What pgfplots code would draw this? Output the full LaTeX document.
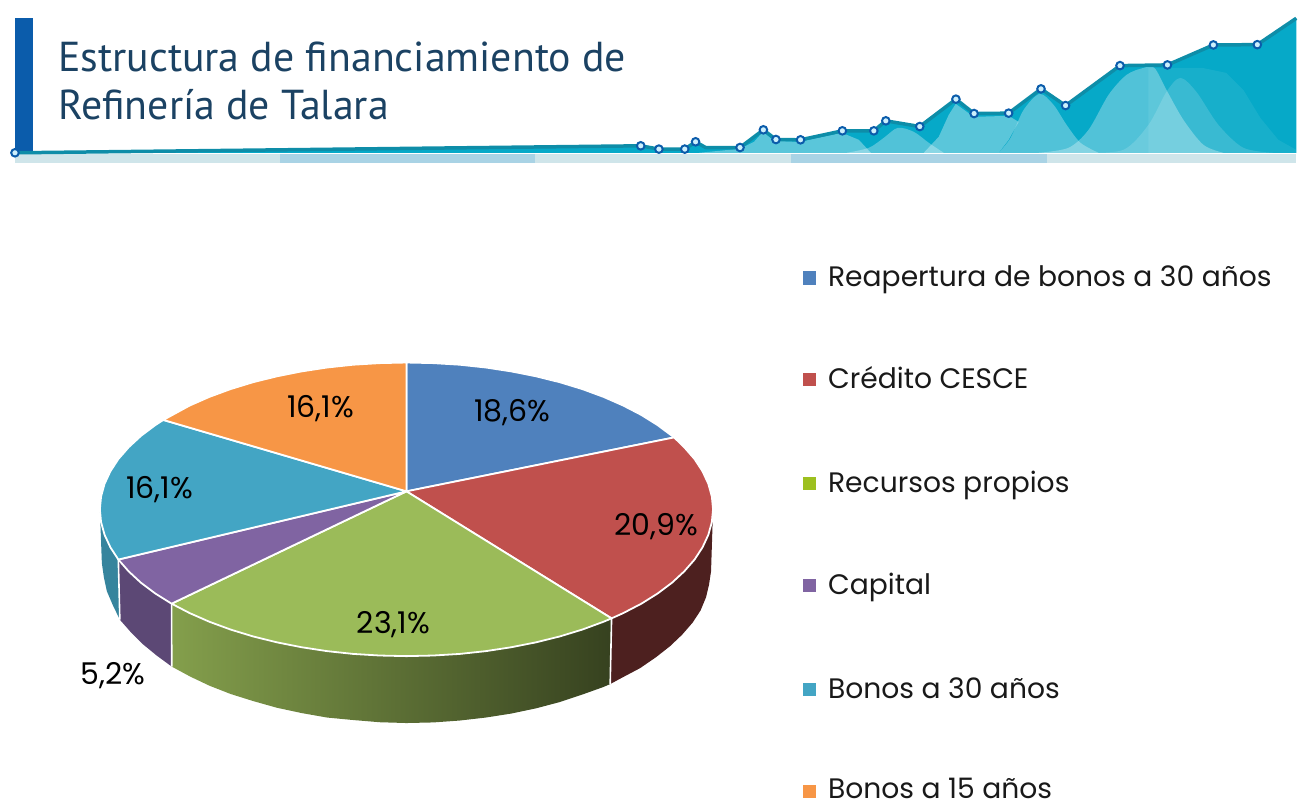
\documentclass[border=0pt]{standalone}
\usepackage{fontspec}
\usepackage{graphicx}
\usepackage{pgfplots}
\usepackage{pgfplotstable}
\pgfplotsset{compat=1.18}
\setmainfont{Poppins}
\newfontfamily\titlefont{PT Sans}

\definecolor{pblue}{HTML}{4F81BD}
\definecolor{pred}{HTML}{C0504D}
\definecolor{pgreen}{HTML}{9BBB59}
\definecolor{ppurple}{HTML}{8064A2}
\definecolor{pteal}{HTML}{43A5C4}
\definecolor{porange}{HTML}{F79646}
\definecolor{lgreen}{HTML}{9DC01F}
\definecolor{barblue}{HTML}{0B5CAB}
\definecolor{titleblue}{HTML}{1B4263}
\definecolor{linetl}{HTML}{0E8DA8}
\definecolor{areatl}{HTML}{06A9C8}
\definecolor{strip1}{HTML}{CFE5EA}
\definecolor{strip2}{HTML}{A9D3E5}

% banner line, pixel positions
\pgfplotstableread{
x y
15 153
641.6 146
659.8 149.3
685.7 149.3
696.5 142
741 147.7
764.4 130
777 139.7
801.6 140
843.5 131
875 131
887 121
921 126.7
957.2 99.3
975.4 113.7
1010 113.3
1042.4 89
1067 105.7
1121.5 65.7
1169 65
1215 45
1259 44.7
}\markers

\begin{document}
\begin{tikzpicture}
\begin{axis}[
    at={(0,0)}, anchor=south west,
    scale only axis,
    width=1298pt, height=803pt,
    xmin=0, xmax=1298, ymin=0, ymax=803,
    y dir=reverse,
    hide axis, clip=false,
]
% header bar and strips
\addplot[draw=none, fill=barblue] coordinates {(15,18) (33,18) (33,153) (15,153)} -- cycle;
\addplot[draw=none, fill=strip1] coordinates {(15,154) (280,154) (280,163) (15,163)} -- cycle;
\addplot[draw=none, fill=strip2] coordinates {(280,154) (536,154) (536,163) (280,163)} -- cycle;
\addplot[draw=none, fill=strip1] coordinates {(536,154) (792,154) (792,163) (536,163)} -- cycle;
\addplot[draw=none, fill=strip2] coordinates {(792,154) (1048,154) (1048,163) (792,163)} -- cycle;
\addplot[draw=none, fill=strip1] coordinates {(1048,154) (1298,154) (1298,163) (1048,163)} -- cycle;
% area under the line
\addplot[draw=none, fill=areatl] coordinates {
    (15,153) (641.6,146) (659.8,149.3) (685.7,149.3) (696.5,142) (706.5,147.7) (741,147.7) (764.4,130)
    (777,139.7) (801.6,140) (843.5,131) (875,131) (887,121) (921,126.7) (957.2,99.3) (975.4,113.7)
    (1010,113.3) (1042.4,89) (1067,105.7) (1121.5,65.7) (1169,65) (1215,45) (1259,44.7) (1298,18.3)
    (1298,153)
} -- cycle;
% lighter hills
\addplot[draw=none, fill=white, fill opacity=.07] coordinates {(1150,153) (1150,68) (1204,68) (1228,73) (1245,90) (1262,118) (1280,140) (1298,150) (1298,153)} -- cycle;
\addplot[draw=none, fill=white, fill opacity=.3, smooth] coordinates {(1040,153) (1070,148) (1090,130) (1110,95) (1128,75) (1145,68) (1156,68) (1168,90) (1185,120) (1205,145) (1225,153)};
\addplot[draw=none, fill=white, fill opacity=.15, smooth] coordinates {(1085,153) (1125,150) (1150,125) (1168,92) (1182,78) (1198,92) (1220,125) (1245,148) (1275,153)};
\addplot[draw=none, fill=white, fill opacity=.3, smooth] coordinates {(1000,153) (1012,138) (1025,110) (1041,94) (1055,105) (1068,125) (1082,143) (1100,153)};
\addplot[draw=none, fill=white, fill opacity=.34] coordinates {(925,153) (940,137) (950,115) (957,104) (975,117) (1010,116) (1020,122) (1010,140) (1000,153)} -- cycle;
\addplot[draw=none, fill=white, fill opacity=.3, smooth] coordinates {(848,153) (870,148) (885,138) (899,128) (915,132) (930,143) (945,153)};
\addplot[draw=none, fill=white, fill opacity=.34] coordinates {(700,153) (741,149) (755,142) (764,132) (775,141) (801,142) (843,133) (860,140) (872,153)} -- cycle;
% line and points
\addplot[linetl, line width=3.5pt, line join=round] coordinates {
    (15,153) (641.6,146) (659.8,149.3) (685.7,149.3) (696.5,142) (706.5,147.7) (741,147.7) (764.4,130)
    (777,139.7) (801.6,140) (843.5,131) (875,131) (887,121) (921,126.7) (957.2,99.3) (975.4,113.7)
    (1010,113.3) (1042.4,89) (1067,105.7) (1121.5,65.7) (1169,65) (1215,45) (1259,44.7) (1298,18.3)
};
\addplot[only marks, mark=*, mark size=3.8pt, mark options={fill=white!80!cyan, draw=barblue, line width=2pt}] table[x=x,y=y] {\markers};

% pie side walls
\addplot[draw=none, fill=ppurple!72!black] coordinates {(171.8,604.5) (141.1,583.5) (118.5,560.3) (120,620.5) (131,633) (143,645) (157,656.5) (172,667.5)} -- cycle;
\addplot[draw=none, fill=pteal!80!black] coordinates {(118.5,560.3) (104.7,535.5) (100,510) (102,564) (104,578) (107,592) (113,606) (120,620.5)} -- cycle;
\addplot[draw=none, fill=pred!40!black] coordinates {
    (714,510) (709.3,535.5) (695.5,560.3) (672.9,583.5) (642.2,604.5) (612.4,619.2)
    (611,685) (623,678.5) (641,669) (657,658) (671,647) (683,635.6) (693.5,623.5) (701.5,611.3) (707,598) (710,585.3) (712,572)} -- cycle;
\addplot[draw=none, left color=pgreen!85!black, middle color=pgreen!55!black, right color=pgreen!35!black] coordinates {
    (171.8,604.5) (209.7,622.6) (253.5,637.3) (302,648.1) (353.7,654.8) (407,657) (460.3,654.8) (512,648.1) (560.5,637.3) (604.3,622.6) (612.4,619.2)
    (611,685) (604,688) (583,695.5) (560.5,703) (536.7,709.3) (512,714.5) (486.5,718.5) (460.3,721.5) (433.8,723.4) (407,724)
    (380.2,723.2) (353.7,721) (327.5,718.5) (302,714) (277.3,708.7) (253.5,702) (230.9,694.9) (209.7,686.6) (190.5,677.5) (172,667.5)} -- cycle;
\addplot[white, line width=1.6pt] coordinates {(612.4,619.2) (611,685)};
\addplot[white, line width=1.6pt] coordinates {(171.8,604.5) (172,667.5)};
\addplot[white, line width=1.6pt] coordinates {(118.5,560.3) (120,620.5)};

% pie top, one wedge for each share
\addplot[draw=white, line width=1.8pt, line join=round, fill=pblue] coordinates {
    (407,492) (407,363) (433.8,363.6) (460.3,365.2) (486.5,368) (512,371.9) (536.7,376.8) (560.5,382.7) (583.1,389.6)
    (604.3,397.4) (624.1,406.1) (642.2,415.5) (658.5,425.7) (675,438)} -- cycle;
\addplot[draw=white, line width=1.8pt, line join=round, fill=pred] coordinates {
    (407,492) (675,438) (685.2,447.9) (695.5,459.7) (703.5,472) (709.3,484.5) (712.8,497.2) (714,510) (712.8,522.8)
    (709.3,535.5) (703.5,548) (695.5,560.3) (685.2,572.1) (672.9,583.5) (658.5,594.3) (642.2,604.5) (624.1,613.9) (612.4,619.2)} -- cycle;
\addplot[draw=white, line width=1.8pt, line join=round, fill=pgreen] coordinates {
    (407,492) (612.4,619.2) (604.3,622.6) (583.1,630.4) (560.5,637.3) (536.7,643.2) (512,648.1) (486.5,652) (460.3,654.8)
    (433.8,656.4) (407,657) (380.2,656.4) (353.7,654.8) (327.5,652) (302,648.1) (277.3,643.2) (253.5,637.3) (230.9,630.4)
    (209.7,622.6) (189.9,613.9) (171.8,604.5)} -- cycle;
\addplot[draw=white, line width=1.8pt, line join=round, fill=ppurple] coordinates {
    (407,492) (171.8,604.5) (155.5,594.3) (141.1,583.5) (128.8,572.1) (118.5,560.3)} -- cycle;
\addplot[draw=white, line width=1.8pt, line join=round, fill=pteal] coordinates {
    (407,492) (118.5,560.3) (110.5,548) (104.7,535.5) (101.2,522.8) (100,510) (101.2,497.2) (104.7,484.5) (110.5,472)
    (118.5,459.7) (128.8,447.9) (141.1,436.5) (155.5,425.7) (163.5,420.5)} -- cycle;
\addplot[draw=white, line width=1.8pt, line join=round, fill=porange] coordinates {
    (407,492) (163.5,420.5) (189.9,406.1) (209.7,397.4) (230.9,389.6) (253.5,382.7) (277.3,376.8) (302,371.9)
    (327.5,368) (353.7,365.2) (380.2,363.6) (407,363)} -- cycle;

% legend squares
\addplot[only marks, mark=square*, mark size=6.2pt, color=pblue] coordinates {(810.5,278)};
\addplot[only marks, mark=square*, mark size=6.2pt, color=pred] coordinates {(810.5,380)};
\addplot[only marks, mark=square*, mark size=6.2pt, color=lgreen] coordinates {(810.5,484)};
\addplot[only marks, mark=square*, mark size=6.2pt, color=ppurple] coordinates {(810.5,586)};
\addplot[only marks, mark=square*, mark size=6.2pt, color=pteal] coordinates {(810.5,690)};
\addplot[only marks, mark=square*, mark size=6.2pt, color=porange] coordinates {(810.5,792)};

\node[anchor=base west, inner sep=0pt, font=\titlefont\fontsize{41.9}{42}\selectfont, text=titleblue] at (axis cs:58,72) {Estructura de financiamiento de};
\node[anchor=base west, inner sep=0pt, font=\titlefont\fontsize{41.9}{42}\selectfont, text=titleblue] at (axis cs:58,120) {Refinería de Talara};

\foreach \lab/\yy in {Reapertura de bonos a 30 años/287, Crédito CESCE/389, Recursos propios/493, Capital/595, Bonos a 30 años/699, Bonos a 15 años/800}
  {\edef\temp{\noexpand\node[anchor=base west, inner sep=0pt, font=\noexpand\fontsize{28.2}{28}\noexpand\selectfont, text=black!90] at (axis cs:829,\yy) {\lab};}\temp}

\node[anchor=base, inner sep=0pt, font=\fontsize{30}{30}\selectfont] at (axis cs:513,422) {18,6\%};
\node[anchor=base, inner sep=0pt, font=\fontsize{30}{30}\selectfont] at (axis cs:657,536) {20,9\%};
\node[anchor=base, inner sep=0pt, font=\fontsize{30}{30}\selectfont] at (axis cs:394,634) {23,1\%};
\node[anchor=base, inner sep=0pt, font=\fontsize{30}{30}\selectfont] at (axis cs:113,685) {5,2\%};
\node[anchor=base, inner sep=0pt, font=\fontsize{30}{30}\selectfont] at (axis cs:160,499) {16,1\%};
\node[anchor=base, inner sep=0pt, font=\fontsize{30}{30}\selectfont] at (axis cs:321,418) {16,1\%};
\end{axis}
\path[use as bounding box] (0,0) rectangle (1298pt,803pt);
\end{tikzpicture}
\end{document}
